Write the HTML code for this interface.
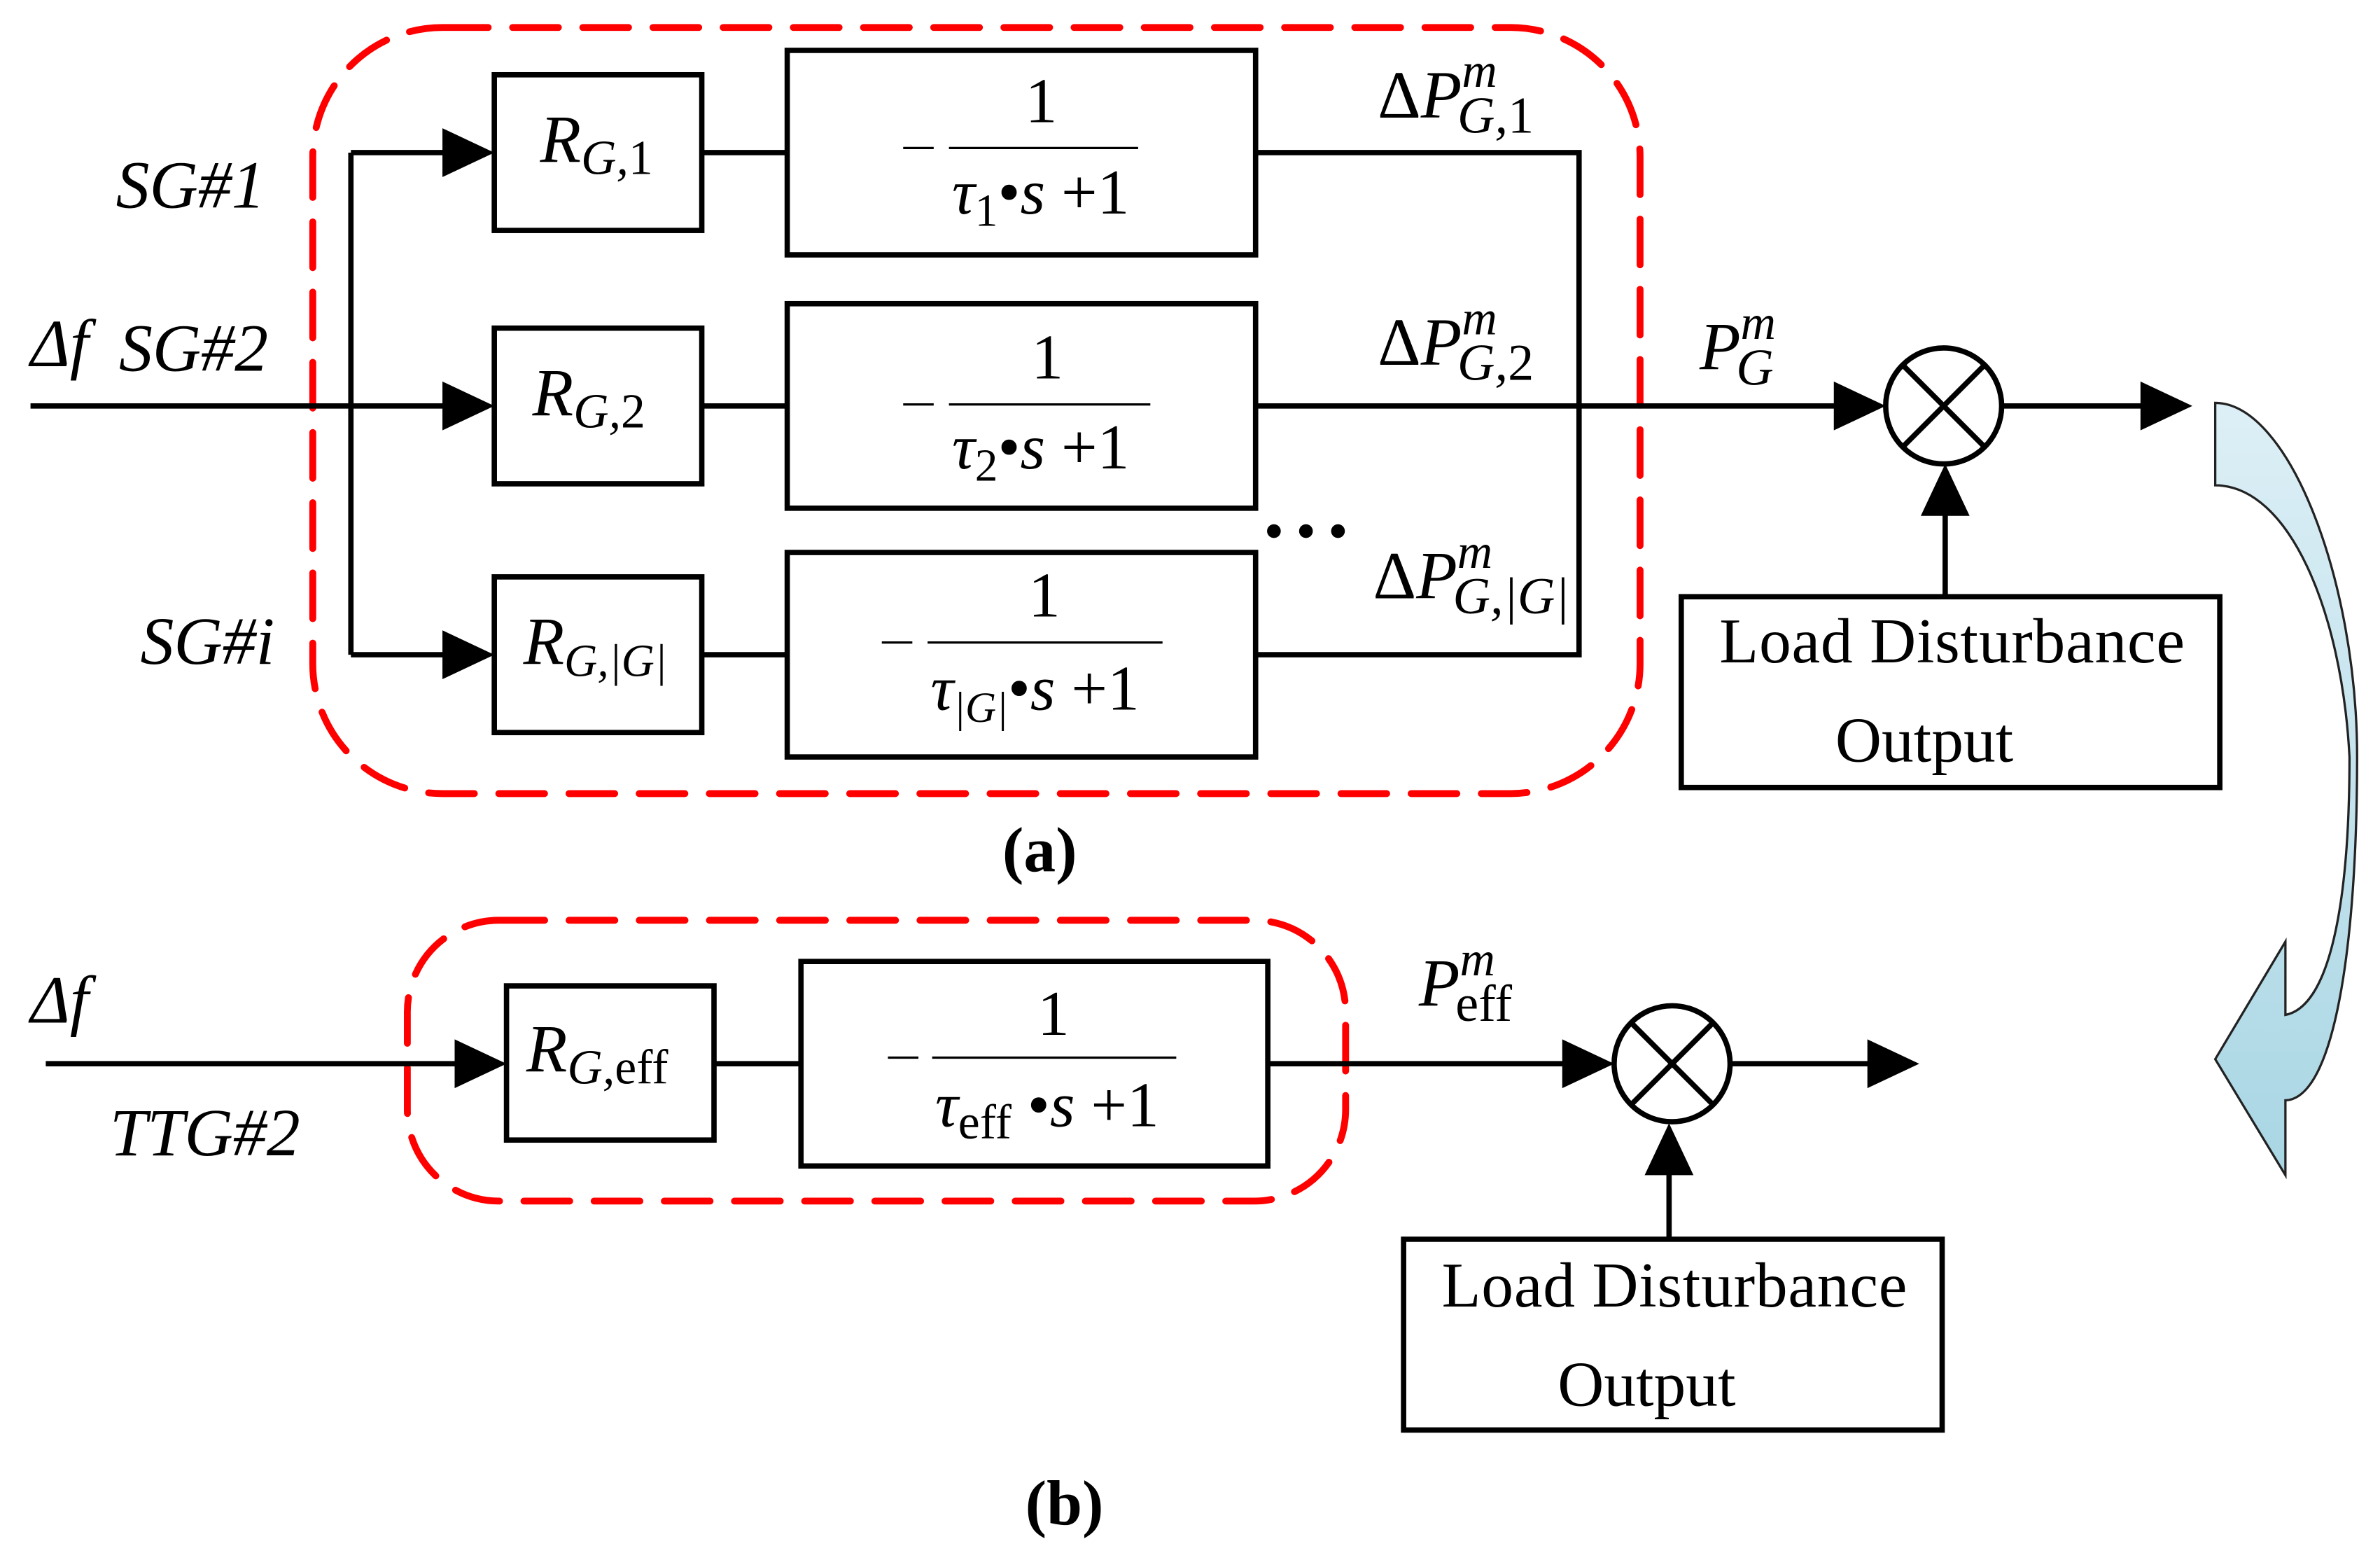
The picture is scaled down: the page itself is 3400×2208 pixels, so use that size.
<!DOCTYPE html>
<html><head><meta charset="utf-8"><style>
html,body{margin:0;padding:0;background:#fff;}
svg{display:block;}
text{font-family:"Liberation Serif",serif;fill:#000;}
.i{font-style:italic;}
</style></head><body>
<svg width="3400" height="2208" viewBox="0 0 1560 1013" preserveAspectRatio="none" xmlns="http://www.w3.org/2000/svg">
<defs>
<linearGradient id="bl" x1="0" y1="0" x2="0" y2="1">
<stop offset="0" stop-color="#ddeff6"/><stop offset="1" stop-color="#a9d6e4"/>
</linearGradient>
</defs>
<g fill="none" stroke="#ff0000" stroke-width="4.5" stroke-dasharray="30 16" stroke-linecap="round">
<rect x="205" y="18" width="870" height="502" rx="85"/>
<rect x="267" y="603" width="615" height="184" rx="60"/>
</g>
<g fill="none" stroke="#000" stroke-width="3.5">
<rect x="324" y="49" width="136" height="102"/>
<rect x="516" y="33" width="307" height="134"/>
<rect x="324" y="215" width="136" height="102"/>
<rect x="516" y="199" width="307" height="134"/>
<rect x="324" y="378" width="136" height="102"/>
<rect x="516" y="362" width="307" height="134"/>
<rect x="1102" y="391" width="353" height="125"/>
<rect x="332" y="646" width="136" height="101"/>
<rect x="525" y="630" width="306" height="134"/>
<rect x="920" y="812" width="353" height="125"/>
<path d="M20 266H300M230 100V429M230 100H300M230 429H300"/>
<path d="M460 100H516M460 266H516M460 429H516"/>
<path d="M823 100H1035V429H823M823 266H1210M1312 266H1410"/>
<path d="M1275 390V330"/>
<circle cx="1274" cy="266" r="38"/>
<path d="M1247 239L1301 293M1301 239L1247 293"/>
<path d="M30 697H308M468 697H525M831 697H1033M1134 697H1232M1094 812V762"/>
<circle cx="1096" cy="697" r="38"/>
<path d="M1069 670L1123 724M1123 670L1069 724"/>
</g>
<g stroke="#000" stroke-width="1.5">
<line x1="622" y1="97" x2="746" y2="97"/>
<line x1="622" y1="265" x2="754" y2="265"/>
<line x1="608" y1="421" x2="762" y2="421"/>
<line x1="611" y1="693" x2="771" y2="693"/>
<line x1="592" y1="97" x2="612" y2="97"/>
<line x1="592" y1="265" x2="612" y2="265"/>
<line x1="578" y1="421" x2="598" y2="421"/>
<line x1="582" y1="693" x2="602" y2="693"/>
</g>
<g fill="#000">
<path d="M324 100L290 84V116Z"/>
<path d="M324 266L290 250V282Z"/>
<path d="M324 429L290 413V445Z"/>
<path d="M1236 266L1202 250V282Z"/>
<path d="M1437 266L1403 250V282Z"/>
<path d="M1275 304L1259 338H1291Z"/>
<path d="M332 697L298 681V713Z"/>
<path d="M1058 697L1024 681V713Z"/>
<path d="M1258 697L1224 681V713Z"/>
<path d="M1094 736L1078 770H1110Z"/>
<circle cx="835" cy="348" r="4.5"/><circle cx="856" cy="348" r="4.5"/><circle cx="877" cy="348" r="4.5"/>
</g>
<path d="M1452 264C1500 264 1545 380 1545 496C1545 620 1530 720 1498 721L1498 770L1452 694L1498 617L1498 665C1525 660 1540 600 1540 496C1535 400 1500 318 1452 318Z" fill="url(#bl)" stroke="#222" stroke-width="1.5"/>
<g font-size="42">
<text class="i" x="76" y="136" font-size="44">SG#1</text>
<text class="i" x="20" y="240" font-size="44">Δf</text>
<text class="i" x="78" y="243" font-size="44">SG#2</text>
<text class="i" x="92" y="435" font-size="44">SG#i</text>
<text class="i" x="20" y="670" font-size="44">Δf</text>
<text class="i" x="72" y="757" font-size="44">TTG#2</text>
<text x="354" y="106" class="i" font-size="44">R<tspan font-size="32" dy="8">G,<tspan font-style="normal">1</tspan></tspan></text>
<text x="349" y="272" class="i" font-size="44">R<tspan font-size="32" dy="8">G,<tspan font-style="normal">2</tspan></tspan></text>
<text x="343" y="435" class="i" font-size="44">R<tspan font-size="30" dy="8">G,|G|</tspan></text>
<text x="345" y="702" class="i" font-size="44">R<tspan font-size="32" dy="8">G,<tspan font-style="normal">eff</tspan></tspan></text>
<text x="672" y="80">1</text>
<text x="624" y="140" class="i">τ<tspan font-size="30" dy="8" font-style="normal">1</tspan><tspan dy="-8" font-style="normal">•</tspan>s<tspan font-style="normal"> +1</tspan></text>
<text x="676" y="248">1</text>
<text x="624" y="307" class="i">τ<tspan font-size="30" dy="8" font-style="normal">2</tspan><tspan dy="-8" font-style="normal">•</tspan>s<tspan font-style="normal"> +1</tspan></text>
<text x="674" y="404">1</text>
<text x="610" y="465" class="i">τ<tspan font-size="28" dy="8">|G|</tspan><tspan dy="-8" font-style="normal">•</tspan>s<tspan font-style="normal"> +1</tspan></text>
<text x="680" y="678">1</text>
<text x="613" y="738" class="i">τ<tspan font-size="32" dy="8" font-style="normal">eff</tspan><tspan dy="-8" font-style="normal"> •</tspan>s<tspan font-style="normal"> +1</tspan></text>
<text x="903" y="77" class="i" font-size="44"><tspan font-style="normal">Δ</tspan>P<tspan font-size="32" dy="-20">m</tspan><tspan font-size="34" dx="-26" dy="30">G,<tspan font-style="normal">1</tspan></tspan></text>
<text x="903" y="239" class="i" font-size="44"><tspan font-style="normal">Δ</tspan>P<tspan font-size="32" dy="-20">m</tspan><tspan font-size="34" dx="-26" dy="30">G,<tspan font-style="normal">2</tspan></tspan></text>
<text x="900" y="392" class="i" font-size="44"><tspan font-style="normal">Δ</tspan>P<tspan font-size="32" dy="-20">m</tspan><tspan font-size="34" dx="-26" dy="30">G,|G|</tspan></text>
<text x="1114" y="242" class="i" font-size="44">P<tspan font-size="32" dy="-20">m</tspan><tspan font-size="34" dx="-26" dy="30">G</tspan></text>
<text x="930" y="659" class="i" font-size="44">P<tspan font-size="32" dy="-20">m</tspan><tspan font-size="34" dx="-26" dy="30" font-style="normal">eff</tspan></text>
<text x="1127" y="434" textLength="305">Load Disturbance</text>
<text x="1203" y="499">Output</text>
<text x="945" y="856" textLength="305">Load Disturbance</text>
<text x="1021" y="921">Output</text>
<text x="657" y="571" font-weight="bold">(a)</text>
<text x="672" y="999" font-weight="bold">(b)</text>
</g>
</svg>
</body></html>
